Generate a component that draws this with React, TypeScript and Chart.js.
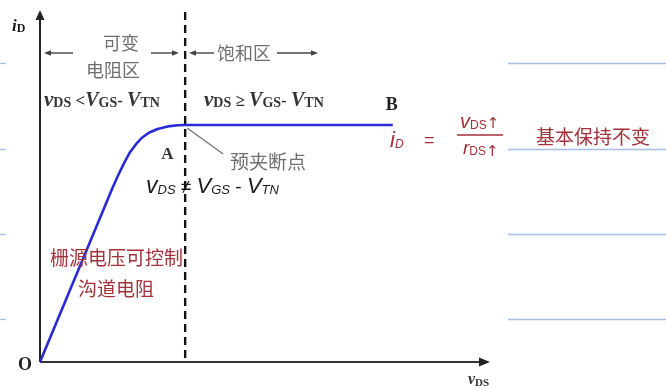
import { useEffect, useRef } from "react";
import { Chart, registerables } from "chart.js";

Chart.register(...registerables);

// Output characteristic of an enhancement NMOS (normalised units):
// drain voltage vDS (pinch-off at 1) and drain current iD (saturation at 1).
const vDS = [0, 0.5, 0.54, 0.58, 0.62, 0.66, 0.7, 0.75, 0.81, 0.88, 0.95, 1.0, 2.43];
const iD = [0, 0.735, 0.79, 0.84, 0.885, 0.918, 0.945, 0.967, 0.983, 0.994, 0.999, 1.0, 1.0];

const PINCH_V = 1.0; // vDS = VGS - VTN
const SAT_I = 1.0; // iD in the saturation region
const POINT_B_V = 2.43;
const X_MAX = 3.1;
const Y_MAX = 1.485;

// Horizontal ruled lines of the notebook page behind the figure (y in iD units)
const ruleLevels = [1.263, 0.9, 0.54, 0.18];

type Seg = { t: string; font: string; dy?: number };

const SERIF = '"Liberation Serif", "DejaVu Serif", serif';
const CJK = '"Noto Sans CJK SC", sans-serif';
const HAND = '"Liberation Sans", "DejaVu Sans", sans-serif';

function drawRun(
  ctx: CanvasRenderingContext2D,
  x: number,
  y: number,
  segs: Seg[],
  color: string
) {
  ctx.save();
  ctx.fillStyle = color;
  ctx.textBaseline = "alphabetic";
  ctx.textAlign = "left";
  let cx = x;
  for (const s of segs) {
    ctx.font = s.font;
    ctx.fillText(s.t, cx, y + (s.dy || 0));
    cx += ctx.measureText(s.t).width;
  }
  ctx.restore();
}

function arrowHead(
  ctx: CanvasRenderingContext2D,
  x: number,
  y: number,
  dir: "up" | "right" | "left",
  size: number,
  color: string
) {
  ctx.save();
  ctx.fillStyle = color;
  ctx.beginPath();
  if (dir === "up") {
    ctx.moveTo(x, y);
    ctx.lineTo(x - size * 0.45, y + size);
    ctx.lineTo(x + size * 0.45, y + size);
  } else if (dir === "right") {
    ctx.moveTo(x, y);
    ctx.lineTo(x - size, y - size * 0.4);
    ctx.lineTo(x - size, y + size * 0.4);
  } else {
    ctx.moveTo(x, y);
    ctx.lineTo(x + size, y - size * 0.4);
    ctx.lineTo(x + size, y + size * 0.4);
  }
  ctx.closePath();
  ctx.fill();
  ctx.restore();
}

function line(
  ctx: CanvasRenderingContext2D,
  x1: number,
  y1: number,
  x2: number,
  y2: number,
  color: string,
  width: number,
  dash: number[] = []
) {
  ctx.save();
  ctx.strokeStyle = color;
  ctx.lineWidth = width;
  ctx.setLineDash(dash);
  ctx.beginPath();
  ctx.moveTo(x1, y1);
  ctx.lineTo(x2, y2);
  ctx.stroke();
  ctx.restore();
}

const backdrop = {
  id: "backdrop",
  beforeDatasetsDraw(chart: any) {
    const ctx: CanvasRenderingContext2D = chart.ctx;
    const xs = chart.scales.x;
    const ys = chart.scales.y;
    const x0 = xs.getPixelForValue(0);
    const y0 = ys.getPixelForValue(0);
    const yTop = ys.getPixelForValue(Y_MAX);
    const xEnd = xs.getPixelForValue(X_MAX);
    const xPinch = xs.getPixelForValue(PINCH_V);

    // notebook rules, visible at the page edges
    for (const lv of ruleLevels) {
      const py = Math.round(ys.getPixelForValue(lv)) + 0.5;
      line(ctx, 0, py, 6, py, "#a9bde0", 1.3);
      line(ctx, 508, py, chart.width, py, "#a9bde0", 1.3);
    }

    // axes
    line(ctx, x0, y0, x0, yTop + 8, "#222", 2);
    arrowHead(ctx, x0, yTop, "up", 10, "#222");
    line(ctx, x0, y0, xEnd - 8, y0, "#333", 2);
    arrowHead(ctx, xEnd, y0, "right", 11, "#222");

    // boundary between ohmic and saturation regions
    line(ctx, xPinch, yTop + 2, xPinch, y0, "#111", 2.4, [8, 5]);
  },
  afterDatasetsDraw(chart: any) {
    const ctx: CanvasRenderingContext2D = chart.ctx;
    const xs = chart.scales.x;
    const ys = chart.scales.y;
    const xPinch = xs.getPixelForValue(PINCH_V);
    const yPinch = ys.getPixelForValue(SAT_I);
    const xB = xs.getPixelForValue(POINT_B_V);

    const gray = "#6f6f6f";
    const ink = "#1a1a1a";
    const red = "#a3313a";

    const bi = (s: number) => `bold italic ${s}px ${SERIF}`;
    const b = (s: number) => `bold ${s}px ${SERIF}`;

    // axis titles and origin
    drawRun(ctx, 12, 31, [{ t: "i", font: bi(17) }, { t: "D", font: b(12), dy: 1 }], ink);
    drawRun(ctx, 18, 370, [{ t: "O", font: b(18) }], "#222");
    drawRun(
      ctx,
      468,
      384,
      [{ t: "v", font: bi(16) }, { t: "DS", font: b(11), dy: 2 }],
      "#333"
    );

    // region headers
    ctx.save();
    ctx.font = `18px ${CJK}`;
    ctx.fillStyle = gray;
    ctx.textAlign = "center";
    ctx.textBaseline = "middle";
    ctx.fillText("可变", 121, 43);
    ctx.fillText("电阻区", 113, 70);
    ctx.fillText("饱和区", 244, 53);
    ctx.restore();

    const yArrow = 53;
    line(ctx, 46, yArrow, 73, yArrow, "#444", 1.4);
    arrowHead(ctx, 44, yArrow, "left", 7, "#444");
    line(ctx, 151, yArrow, 176, yArrow, "#444", 1.4);
    arrowHead(ctx, 179, yArrow, "right", 7, "#444");
    line(ctx, 192, yArrow, 214, yArrow, "#444", 1.4);
    arrowHead(ctx, 189, yArrow, "left", 7, "#444");
    line(ctx, 277, yArrow, 314, yArrow, "#444", 1.4);
    arrowHead(ctx, 318, yArrow, "right", 7, "#444");

    // region conditions
    const cond = (x: number, op: string) =>
      drawRun(
        ctx,
        x,
        106,
        [
          { t: "v", font: bi(21) },
          { t: "DS", font: b(14), dy: 1 },
          { t: op, font: b(17) },
          { t: "V", font: bi(20) },
          { t: "GS", font: b(14), dy: 1 },
          { t: "- ", font: b(17) },
          { t: "V", font: bi(20) },
          { t: "TN", font: b(14), dy: 1 },
        ],
        "#333"
      );
    cond(44, " <");
    cond(204, " ≥ ");

    // marked points
    drawRun(ctx, xPinch - 24, yPinch + 34, [{ t: "A", font: b(17) }], "#333");
    drawRun(ctx, xB - 7, yPinch - 15, [{ t: "B", font: b(18) }], "#222");

    // pinch-off callout
    line(ctx, xPinch + 2, yPinch + 3, xPinch + 38, yPinch + 29, "#777", 1.4);
    ctx.save();
    ctx.font = `19px ${CJK}`;
    ctx.fillStyle = gray;
    ctx.textBaseline = "middle";
    ctx.fillText("预夹断点", 230, 162);
    ctx.restore();

    // notes
    drawRun(
      ctx,
      146,
      193,
      [
        { t: "v", font: `italic 23px ${HAND}` },
        { t: "DS", font: `italic 13px ${HAND}`, dy: 1 },
        { t: " ≠ ", font: `19px ${HAND}` },
        { t: "V", font: `italic 22px ${HAND}` },
        { t: "GS", font: `italic 13px ${HAND}`, dy: 1 },
        { t: " - ", font: `19px ${HAND}` },
        { t: "V", font: `italic 22px ${HAND}` },
        { t: "TN", font: `italic 13px ${HAND}`, dy: 1 },
      ],
      ink
    );

    drawRun(
      ctx,
      390,
      147,
      [
        { t: "i", font: `italic 22px ${HAND}` },
        { t: "D", font: `italic 12px ${HAND}`, dy: 1 },
      ],
      red
    );
    drawRun(ctx, 424, 146, [{ t: "=", font: `18px ${HAND}` }], red);
    drawRun(
      ctx,
      460,
      128,
      [
        { t: "v", font: `italic 20px ${HAND}` },
        { t: "DS", font: `12px ${HAND}`, dy: 1 },
        { t: "↑", font: `15px "DejaVu Sans"` },
      ],
      red
    );
    line(ctx, 457, 135, 503, 135, red, 1.3);
    drawRun(
      ctx,
      463,
      154,
      [
        { t: "r", font: `italic 19px ${HAND}` },
        { t: "DS", font: `12px ${HAND}`, dy: 1 },
        { t: "↑", font: `15px "DejaVu Sans"`, dy: 2 },
      ],
      red
    );

    ctx.save();
    ctx.fillStyle = red;
    ctx.textBaseline = "middle";
    ctx.font = `19px ${CJK}`;
    ctx.fillText("基本保持不变", 536, 137);
    ctx.fillText("栅源电压可控制", 50, 258);
    ctx.fillText("沟道电阻", 78, 289);
    ctx.restore();
  },
};

export default function App() {
  const ref = useRef<HTMLCanvasElement | null>(null);

  useEffect(() => {
    document.body.style.margin = "0";
    document.body.style.background = "#ffffff";
    const canvas = ref.current;
    if (!canvas) return;
    const chart = new Chart(canvas, {
      type: "line",
      data: {
        datasets: [
          {
            data: vDS.map((v, k) => ({ x: v, y: iD[k] })),
            borderColor: "#2a2ad4",
            borderWidth: 2.6,
            pointRadius: 0,
            tension: 0,
            borderJoinStyle: "round",
            fill: false,
            clip: false as any,
          },
        ],
      },
      options: {
        animation: false,
        responsive: false,
        events: [],
        layout: { padding: { left: 40, right: 176, top: 10, bottom: 27 } },
        plugins: {
          legend: { display: false },
          tooltip: { enabled: false },
        },
        scales: {
          x: { type: "linear", min: 0, max: X_MAX, display: false },
          y: { type: "linear", min: 0, max: Y_MAX, display: false },
        },
      },
      plugins: [backdrop],
    });
    return () => chart.destroy();
  }, []);

  return (
    <canvas
      ref={ref}
      width={666}
      height={389}
      style={{ display: "block", width: 666, height: 389 }}
    />
  );
}
